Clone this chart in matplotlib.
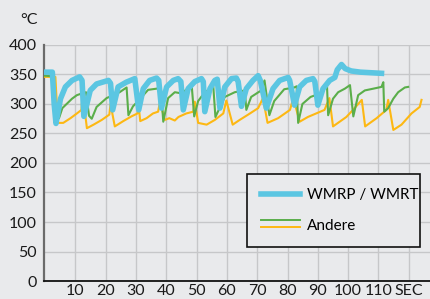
import matplotlib
matplotlib.use("Agg")
import matplotlib.pyplot as plt
from matplotlib.legend_handler import HandlerBase
from matplotlib.lines import Line2D

# WMRP / WMRT (blue) - vertices: (seconds, degC)
wmrp_x = [0, 2.4, 3.0, 3.6, 5.1, 6.7, 8.9, 11.4, 12.2, 12.8, 14.9, 17.0, 20.9, 21.6, 22.3,
          24.1, 26.8, 29.6, 30.9, 32.4, 34.5, 36.8, 37.5, 38.4, 40.1, 42.3, 43.9, 44.8,
          45.6, 47.2, 49.4, 51.6, 52.2, 52.7, 54.4, 56.0, 56.8, 57.7, 59.3, 61.5, 63.1,
          63.7, 64.8, 66.4, 68.6, 70.3, 71.0, 73.0, 75.2, 77.4, 80.2, 80.7, 82.3, 84.0,
          86.2, 88.4, 89.0, 90.0, 91.7, 93.9, 95.6, 96.4, 97.8, 99.0, 101.0, 104.0, 111.0]
wmrp_y = [354, 354, 300, 267, 309, 329, 340, 346, 340, 279, 323, 334, 340, 335, 290,
          329, 337, 343, 290, 326, 340, 344, 340, 293, 329, 340, 343, 338,
          290, 326, 338, 343, 338, 287, 326, 340, 342, 293, 329, 343, 344,
          338, 296, 326, 340, 348, 340, 293, 326, 340, 345, 340, 298, 329,
          340, 343, 338, 298, 326, 340, 345, 358, 367, 360, 356, 354, 352]

# Andere (green)
green_x = [0, 2.4, 3.5, 4.6, 5.7, 7.3, 8.9, 10.5, 12.2, 13.5, 14.5, 15.4, 17.0, 20.3, 24.6,
           26.9, 27.5, 29.0, 31.2, 34.0, 36.8, 38.2, 39.0, 40.6, 42.8, 45.0, 47.5, 48.4,
           49.2, 50.5, 52.7, 54.9, 55.5, 56.2, 59.3, 62.6, 65.9, 66.4, 68.0, 71.3, 72.4,
           74.0, 75.6, 78.9, 82.2, 83.0, 83.5, 84.9, 87.6, 90.9, 93.0, 93.4, 95.0, 96.7,
           98.9, 100.6, 101.7, 103.3, 105.5, 108.3, 111.0, 111.6, 111.9, 113.2, 114.9,
           116.5, 118.7, 119.8]
green_y = [348, 347, 273, 276, 293, 301, 309, 315, 318, 320, 280, 275, 295, 310, 320,
           328, 281, 296, 308, 324, 326, 328, 270, 310, 320, 318, 328, 330,
           279, 305, 320, 327, 330, 278, 312, 320, 323, 290, 312, 323, 340,
           281, 305, 325, 328, 330, 268, 300, 312, 318, 333, 281, 309, 320,
           326, 332, 279, 315, 323, 326, 329, 337, 287, 293, 309,
           320, 328, 329]

# Andere (yellow)
yellow_x = [0, 3.4, 4.2, 6.0, 8.4, 10.5, 12.0, 12.4, 13.8, 16.0, 18.7, 21.2, 21.6, 23.0,
            25.8, 28.5, 30.5, 30.9, 31.4, 33.5, 35.6, 37.3, 37.9, 39.5, 41.0, 42.8, 44.0,
            46.6, 48.9, 49.4, 50.5, 53.3, 56.0, 58.8, 59.8, 61.9, 64.2, 67.0, 70.3, 71.9,
            73.4, 76.9, 80.8, 81.9, 84.0, 86.7, 92.2, 93.8, 95.0, 99.4, 101.6, 104.5,
            105.6, 109.4, 112.6, 113.2, 114.9, 117.6, 120.9, 123.6, 124.2]
yellow_y = [346, 346, 268, 268, 276, 284, 290, 318, 259, 265, 273, 282, 300, 262,
            271, 279, 284, 296, 271, 276, 284, 287, 304, 273, 276, 272, 278,
            284, 287, 304, 268, 265, 273, 284, 306, 265, 273, 282, 293, 310,
            268, 276, 290, 310, 270, 278, 290, 310, 262, 278, 290, 307,
            262, 276, 290, 307, 256, 265, 284, 295, 307]

x_ticks = [10, 20, 30, 40, 50, 60, 70, 80, 90, 100, 110, 120]
x_labels = ["10", "20", "30", "40", "50", "60", "70", "80", "90", "100", "110", "SEC"]
y_ticks = [0, 50, 100, 150, 200, 250, 300, 350, 400]

BG = "#e9eaec"
BLUE = "#5bc6e2"
GREEN = "#5aae4a"
YELLOW = "#fdb813"

plt.rcParams["font.family"] = ["Lato", "DejaVu Sans"]


class StackedLines(HandlerBase):
    """Two thin lines stacked in one legend slot."""

    def create_artists(self, legend, orig_handle, xdescent, ydescent, width, height,
                       fontsize, trans):
        out = []
        for i, c in enumerate(orig_handle):
            y = height * (0.85 - 0.6 * i) - ydescent
            out.append(Line2D([-xdescent, -xdescent + width], [y, y], color=c, lw=1.4,
                              transform=trans))
        return out


fig = plt.figure(figsize=(4.30, 2.99), dpi=100, facecolor=BG)
ax = fig.add_axes([0.102, 0.0602, 0.898, 0.7893], facecolor=BG)

ax.plot(yellow_x, yellow_y, color=YELLOW, lw=1.5, zorder=3)
ax.plot(green_x, green_y, color=GREEN, lw=1.5, zorder=4)
ax.plot(wmrp_x, wmrp_y, color=BLUE, lw=4.0, zorder=5, solid_joinstyle="round")

ax.set_xlim(-0.4, 127)
ax.set_ylim(0, 400)
ax.set_xticks(x_ticks)
ax.set_xticklabels(x_labels)
ax.set_yticks(y_ticks)
ax.tick_params(length=0, labelsize=11.5, colors="#1a1a1a")
ax.tick_params(axis="x", pad=2)
ax.tick_params(axis="y", pad=5)
ax.grid(True, color="#c6c7c9", lw=1.0)
ax.set_axisbelow(True)
for s in ("top", "right"):
    ax.spines[s].set_visible(False)
ax.spines["left"].set_color("#6b6b6b")
ax.spines["left"].set_linewidth(1.6)
ax.spines["bottom"].set_color("#111111")
ax.spines["bottom"].set_linewidth(1.3)

fig.text(0.088, 0.932, "°C", ha="right", va="center", fontsize=11.5, color="#1a1a1a")

h_blue = Line2D([], [], color=BLUE, lw=4.0)
leg = ax.legend([h_blue, (GREEN, YELLOW)], ["WMRP / WMRT", "Andere"],
                handler_map={tuple: StackedLines()},
                loc="lower left", bbox_to_anchor=(0.526, 0.144, 0.448, 0.314),
                mode="expand", borderaxespad=0, fontsize=11, handlelength=2.5,
                handletextpad=0.5, labelspacing=1.05, borderpad=0.95,
                fancybox=False, framealpha=1, facecolor=BG, edgecolor="#111111")
leg.get_frame().set_linewidth(1.2)

fig.savefig("out.png", dpi=100, facecolor=fig.get_facecolor())
